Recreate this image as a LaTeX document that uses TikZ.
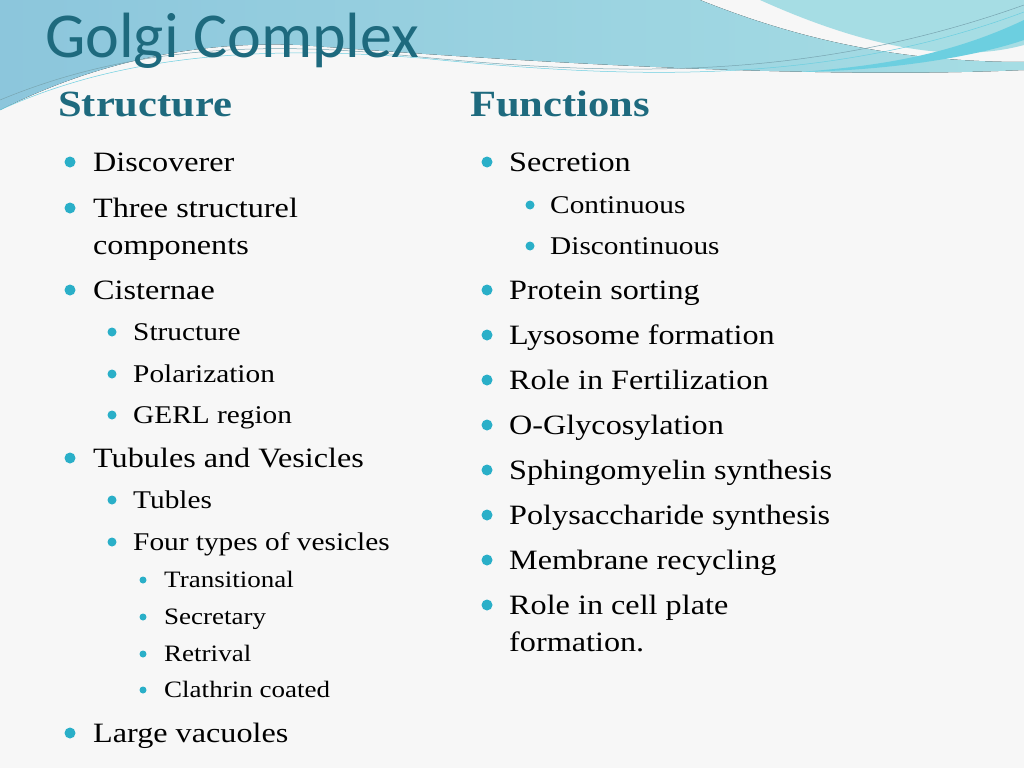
\documentclass[tikz,border=0pt]{standalone}
\usepackage{fontspec}
\setmainfont[FakeStretch=1.15]{Liberation Serif}
\newfontfamily\titlefont{Carlito}
\definecolor{teal1}{HTML}{1E6A7E}
\definecolor{bul}{HTML}{2AAFC8}
\definecolor{bg}{HTML}{F7F7F7}
\definecolor{bluew}{HTML}{8CC6DC}
\definecolor{tealw}{HTML}{A6DDE4}
\definecolor{cyanw}{HTML}{6CCFE0}
\begin{document}
\begin{tikzpicture}[x=1pt,y=-1pt,
  tx/.style={anchor=base west,inner sep=0pt,text=black},
  la/.style={tx,font=\fontsize{28}{30}\selectfont},
  lb/.style={tx,font=\fontsize{25.5}{27}\selectfont},
  lc/.style={tx,font=\fontsize{23.5}{25}\selectfont},
  hd/.style={anchor=base west,inner sep=0pt,text=teal1,font=\fontsize{37}{40}\selectfont\bfseries}]
\fill[bg] (0,0) rectangle (1024,768);
\useasboundingbox (0,0) rectangle (1024,768);
% waves
\fill[left color=bluew,right color=tealw] (0,0) -- (700,0) .. controls (800,40) and (900,62) .. (1024,62) -- (1024,70)
  .. controls (800,80) and (500,60) .. (300,45) .. controls (180,40) and (80,70) .. (0,110) -- cycle;
\fill[tealw] (760,0) -- (1024,0) -- (1024,45) .. controls (950,65) and (860,45) .. (760,0) -- cycle;
\fill[cyanw] (1024,20) .. controls (950,55) and (880,66) .. (800,72) .. controls (900,70) and (980,55) .. (1024,40) -- cycle;
\draw[teal1!60,line width=0.5pt] (0,100) .. controls (120,50) and (250,40) .. (400,55) .. controls (600,75) and (800,85) .. (1024,5);
\draw[cyanw,line width=0.5pt] (0,110) .. controls (120,55) and (260,45) .. (420,58) .. controls (620,78) and (820,88) .. (1024,12);
\node[anchor=base west,inner sep=0pt,text=teal1,font=\titlefont\fontsize{64}{66}\selectfont] (title) at (45,58) {Golgi Complex};
\node[hd] (h1) at (58,116) {Structure};
\node[hd] (h2) at (470,116) {Functions};
% bullets
\foreach \y/\t [count=\i] in {162/Discoverer,208/Three structurel,290/Cisternae,458/Tubules and Vesicles,733/Large vacuoles}{
  \fill[bul] (70,\y) circle (5.5);
  \node[la] (l\i) at (93,\y+9) {\t};}
\node[la] (lcomp) at (93,254) {components};
\foreach \y/\t [count=\i] in {332/Structure,374/Polarization,415/GERL region,500/Tubles,542/Four types of vesicles}{
  \fill[bul] (112,\y) circle (4.5);
  \node[lb] (m\i) at (133,\y+8) {\t};}
\foreach \y/\t [count=\i] in {580/Transitional,617/Secretary,654/Retrival,690/Clathrin coated}{
  \fill[bul] (143,\y) circle (3.5);
  \node[lc] (n\i) at (164,\y+7.5) {\t};}
\foreach \y/\t [count=\i] in {162/Secretion,290/Protein sorting,335/Lysosome formation,380/Role in Fertilization,425/O-Glycosylation,470/Sphingomyelin synthesis,515/Polysaccharide synthesis,560/Membrane recycling,605/Role in cell plate}{
  \fill[bul] (487,\y) circle (5.5);
  \node[la] (r\i) at (509,\y+9) {\t};}
\node[la] (rform) at (509,651) {formation.};
\foreach \y/\t [count=\i] in {205/Continuous,246/Discontinuous}{
  \fill[bul] (530,\y) circle (4.5);
  \node[lb] (s\i) at (550,\y+8) {\t};}
\end{tikzpicture}
\end{document}
